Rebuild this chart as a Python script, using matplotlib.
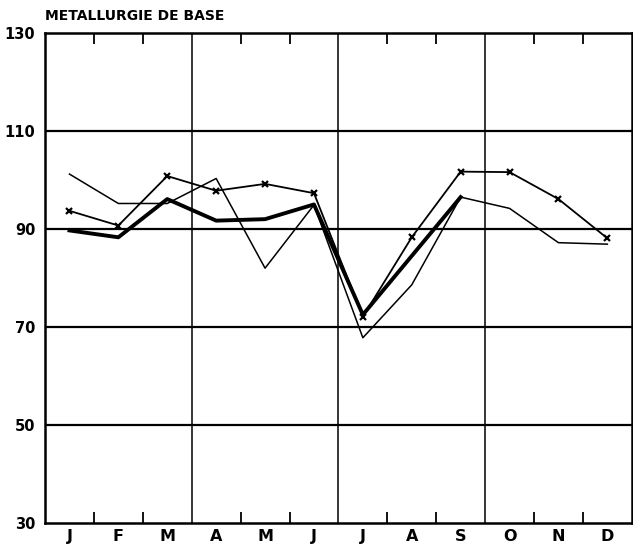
import matplotlib
matplotlib.use('Agg')
import matplotlib.pyplot as plt
import numpy as np

months = ['J', 'F', 'M', 'A', 'M', 'J', 'J', 'A', 'S', 'O', 'N', 'D']
yticks = [30, 50, 70, 90, 110, 130]

# thin line, full year
thin = [101.2, 95.2, 95.2, 100.3, 82.0, 94.9, 67.8, 78.6, 96.5, 94.2, 87.2, 86.9]
# line with x markers, full year
cross = [93.7, 90.7, 100.8, 97.8, 99.2, 97.3, 72.1, 88.3, 101.7, 101.6, 96.1, 88.1]
# thick line, Jan to Sep
thick = [89.7, 88.3, 96.1, 91.7, 92.0, 95.0, 72.5, 84.5, 96.5]

fig = plt.figure(figsize=(6.33, 5.5), dpi=100)
ax = fig.add_axes([0.0711, 0.0491, 0.927, 0.891])

x = np.arange(12)
ax.plot(x, thin, color='black', lw=1.1)
ax.plot(x, cross, color='black', lw=1.3, marker='x', ms=5, mew=1.6)
ax.plot(x[:len(thick)], thick, color='black', lw=2.8, solid_joinstyle='round')

ax.set_xlim(-0.5, 11.5)
ax.set_ylim(30, 130)

# horizontal grid lines
for v in yticks[1:-1]:
    ax.axhline(v, color='black', lw=1.6, zorder=0)
# quarter lines
for q in [2.5, 5.5, 8.5]:
    ax.axvline(q, color='black', lw=1.1, zorder=0)

ax.set_xticks(x)
ax.set_xticklabels(months, fontsize=11.5, fontweight='bold')
ax.tick_params(axis='x', which='major', length=0, pad=4)
mb = [b + 0.5 for b in range(11) if b not in (2, 5, 8)]
ax.set_xticks(mb, minor=True)
ax.tick_params(axis='x', which='minor', direction='in', length=8, width=1.3,
               top=True, bottom=True)

ax.set_yticks(yticks)
ax.set_yticklabels([str(v) for v in yticks], fontsize=10.5, fontweight='bold')
ax.tick_params(axis='y', length=0, pad=7)

for s in ax.spines.values():
    s.set_linewidth(1.8)

fig.text(0.0711, 0.971, 'METALLURGIE DE BASE', fontsize=10, fontweight='bold',
         ha='left', va='center')

fig.savefig('out.png', dpi=100)
